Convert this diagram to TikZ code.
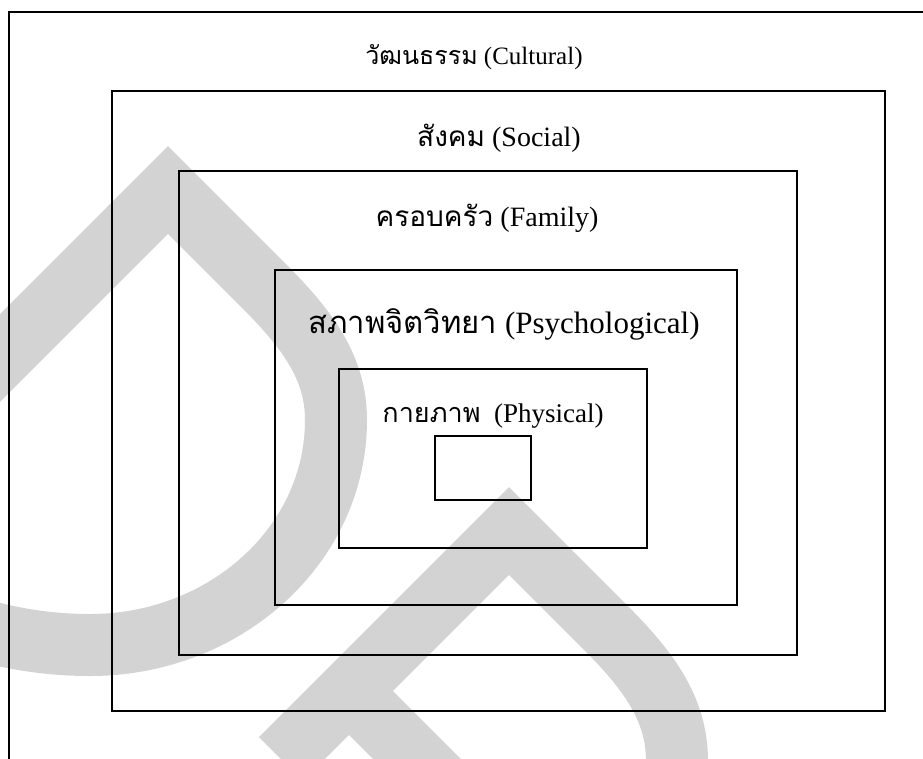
\documentclass[tikz,border=0pt]{standalone}
\usepackage{fontspec}
\setmainfont{Liberation Serif}
\newfontfamily\thaifont[Script=Thai]{Loma}
\definecolor{wm}{RGB}{211,211,211}
\tikzset{
  layer/.style={draw=black, line width=2pt, rectangle, inner sep=0pt, outer sep=0pt},
  lbl/.style={anchor=base, inner sep=0pt, text=black},
  markstroke/.style={draw=wm, line width=62pt, line join=miter, miter limit=10},
}
\begin{document}
\begin{tikzpicture}[x=1pt,y=-1pt]
\useasboundingbox (0,0) rectangle (923,758);
\clip (0,0) rectangle (923,758);
\fill[white] (0,0) rectangle (923,758);
% watermark
\foreach \dx/\dy in {0/0, 341/341} {
  \draw[markstroke, shift={(\dx,\dy)}] (-60,418) -- (168,190) -- (265,287)
    .. controls (310,332) and (336,370) .. (336,420)
    .. controls (336,545) and (225,645) .. (90,645)
    .. controls (30,645) and (-20,632) .. (-60,615);
}
\draw[markstroke] (349,691) -- (470,812);
% boxes
\node[layer, minimum width=951pt, minimum height=788pt, anchor=north west] (cultural) at (9,12) {};
\node[layer, minimum width=773pt, minimum height=620pt] (social) at (498.5,401) {};
\node[layer, minimum width=618pt, minimum height=484pt] (family) at (488,413) {};
\node[layer, minimum width=462pt, minimum height=335pt] (psych) at (506,437.5) {};
\node[layer, minimum width=308pt, minimum height=179pt] (physical) at (493,458.5) {};
\node[layer, minimum width=96pt, minimum height=64pt] (core) at (483,468) {};
% labels
\node[lbl, font=\fontsize{25}{30}\selectfont] (tcultural) at (474,64) {{\thaifont วัฒนธรรม} (Cultural)};
\node[lbl, font=\fontsize{28}{32}\selectfont] (tsocial) at (499,146) {{\thaifont สังคม} (Social)};
\node[lbl, font=\fontsize{28}{32}\selectfont] (tfamily) at (487,226) {{\thaifont ครอบครัว} (Family)};
\node[lbl, font=\fontsize{31}{36}\selectfont] (tpsych) at (504,333) {{\thaifont สภาพจิตวิทยา} (Psychological)};
\node[lbl, font=\fontsize{27}{32}\selectfont] (tphysical) at (493,422) {{\thaifont กายภาพ}\ \ (Physical)};
\end{tikzpicture}
\end{document}
